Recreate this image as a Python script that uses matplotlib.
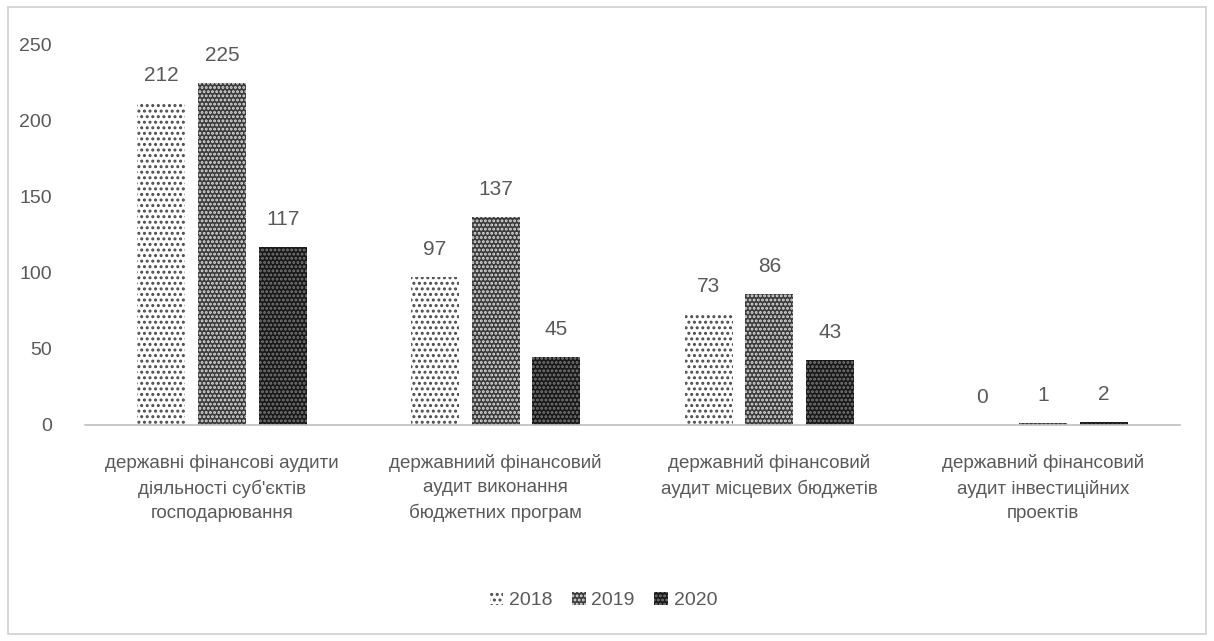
import matplotlib
matplotlib.use("Agg")
import matplotlib.pyplot as plt
from matplotlib.patches import Rectangle
import numpy as np

plt.rcParams['font.family'] = ['Liberation Sans Narrow', 'Liberation Sans', 'DejaVu Sans']
plt.rcParams['hatch.linewidth'] = 1.4

categories = [
    "державні фінансові аудити\nдіяльності суб'єктів\nгосподарювання",
    "державниий фінансовий\nаудит виконання\nбюджетних програм",
    "державний фінансовий\nаудит місцевих бюджетів",
    "державний фінансовий\nаудит інвестиційних\nпроектів",
]
years = ["2018", "2019", "2020"]
values_2018 = [212, 97, 73, 0]
values_2019 = [225, 137, 86, 1]
values_2020 = [117, 45, 43, 2]
yticks = [0, 50, 100, 150, 200, 250]

series = [values_2018, values_2019, values_2020]
styles = [
    dict(facecolor="white", edgecolor="#4a4a4a", hatch="..."),
    dict(facecolor="#3a3a3a", edgecolor="#e0e0e0", hatch="...."),
    dict(facecolor="#181818", edgecolor="#7a7a7a", hatch="...."),
]

fig = plt.figure(figsize=(12.14, 6.41), dpi=100)
fig.patch.set_facecolor("white")
ax = fig.add_axes([0.070, 0.337, 0.902, 0.593])

x = np.arange(len(categories))
w = 0.175
step = 0.222
text_col = "#595959"
for i, (vals, st) in enumerate(zip(series, styles)):
    bars = ax.bar(x + (i - 1) * step, vals, w, label=years[i], linewidth=0,
                  zorder=2, **st)
    ax.bar_label(bars, labels=[str(v) for v in vals], padding=13,
                 fontsize=15, color=text_col)

ax.set_xlim(-0.5, 3.5)
ax.set_ylim(0, 250)
ax.set_yticks(yticks)
ax.set_xticks(x)
ax.set_xticklabels(categories, fontsize=13.5, color=text_col, linespacing=1.55,
                   va="top")
ax.tick_params(axis="x", length=0, pad=21)
ax.tick_params(axis="y", length=0, pad=24, labelsize=14, labelcolor=text_col)
for s in ["top", "right", "left"]:
    ax.spines[s].set_visible(False)
ax.spines["bottom"].set_color("#bfbfbf")
ax.spines["bottom"].set_linewidth(1.2)
ax.patch.set_alpha(0)

leg = fig.legend(loc="center", bbox_to_anchor=(0.497, 0.063), ncol=3,
                 frameon=False, fontsize=14, handlelength=0.7, handleheight=0.7,
                 handletextpad=0.3, columnspacing=1.0)
for t in leg.get_texts():
    t.set_color(text_col)

# outer frame
fig.patches.append(Rectangle((8 / 1214, 7 / 641), 1198 / 1214, 627 / 641,
                             transform=fig.transFigure, fill=False,
                             edgecolor="#d0d0d0", linewidth=1.2))

fig.savefig("out.png", dpi=100)
